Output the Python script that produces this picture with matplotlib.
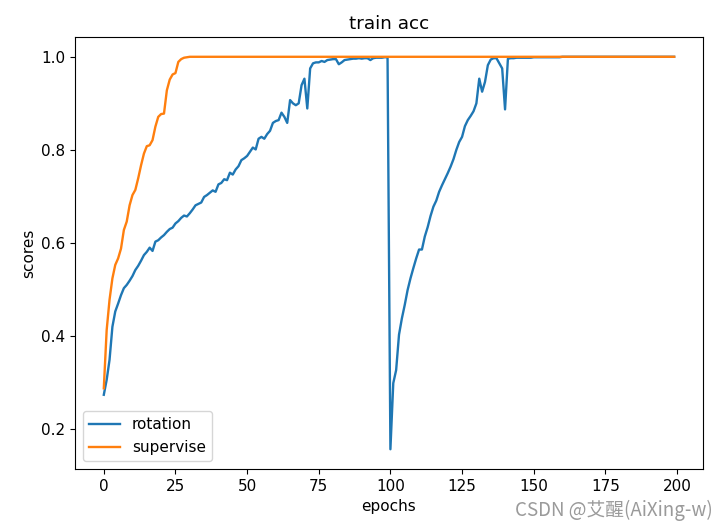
#!/usr/bin/env python3
"""
train acc: rotation vs supervise
"""
import matplotlib
matplotlib.use('Agg')
import matplotlib.pyplot as plt

# rotation accuracy, epochs 0..199
rotation_head = [
  0.274, 0.306, 0.349, 0.420, 0.453, 0.470, 0.488, 0.503, 0.510, 0.519,
  0.529, 0.542, 0.551, 0.562, 0.574, 0.581, 0.590, 0.583, 0.603, 0.606,
  0.612, 0.617, 0.624, 0.630, 0.633, 0.642, 0.647, 0.654, 0.659, 0.657,
  0.664, 0.672, 0.681, 0.684, 0.687, 0.699, 0.703, 0.708, 0.713, 0.710,
  0.726, 0.729, 0.737, 0.735, 0.751, 0.747, 0.758, 0.765, 0.778, 0.782,
  0.787, 0.796, 0.805, 0.801, 0.824, 0.828, 0.824, 0.834, 0.841, 0.858,
  0.862, 0.864, 0.880, 0.871, 0.858, 0.907, 0.900, 0.896, 0.900, 0.939,
  0.953, 0.889, 0.975, 0.986, 0.988, 0.988, 0.991, 0.989, 0.993, 0.994,
  0.995, 0.995, 0.984, 0.988, 0.993, 0.994, 0.995, 0.996, 0.996, 0.997,
  0.996, 0.997, 0.997, 0.993, 0.997, 0.998, 0.998, 0.998, 0.999, 0.999,
]
rotation_tail = [
  0.157, 0.299, 0.327, 0.403, 0.438, 0.467, 0.499, 0.524, 0.546, 0.567,
  0.586, 0.586, 0.614, 0.634, 0.658, 0.678, 0.691, 0.710, 0.724, 0.737,
  0.750, 0.764, 0.780, 0.800, 0.817, 0.828, 0.851, 0.864, 0.873, 0.883,
  0.900, 0.953, 0.925, 0.946, 0.982, 0.994, 0.997, 0.997, 0.986, 0.975,
  0.887, 0.996, 0.997, 0.997, 0.998, 0.998, 0.998, 0.998, 0.998, 0.998,
  0.999, 0.999, 0.999, 0.999, 0.999, 0.999, 0.999, 0.999, 0.999, 0.999,
] + [1.0] * 40
rotation = rotation_head + rotation_tail

# supervised accuracy
supervise = [
  0.288, 0.413, 0.478, 0.524, 0.553, 0.567, 0.588, 0.628, 0.646, 0.681,
  0.703, 0.714, 0.739, 0.767, 0.792, 0.808, 0.810, 0.821, 0.850, 0.871,
  0.877, 0.878, 0.928, 0.951, 0.962, 0.965, 0.989, 0.995, 0.998, 0.999,
] + [1.0] * 170

epochs = list(range(len(rotation)))


def main():
  plt.rcParams['font.size'] = 11
  fig = plt.figure(figsize=(7.17, 5.31), dpi=100)
  fig.subplots_adjust(left=0.105, right=0.980, top=0.930, bottom=0.117)
  plt.plot(epochs, rotation, label='rotation', linewidth=1.7)
  plt.plot(epochs, supervise, label='supervise', linewidth=1.7)
  plt.xlabel('epochs')
  plt.ylabel('scores')
  plt.title('train acc')
  plt.legend(loc='lower left')
  fig.text(0.994, 0.018, 'CSDN @艾醒(AiXing-w)', ha='right', va='bottom',
           color='#9a9a9a', fontsize=13.5,
           family=['Noto Sans CJK SC', 'DejaVu Sans'])
  plt.savefig('out.png', dpi=100)


if __name__ == '__main__':
  main()
